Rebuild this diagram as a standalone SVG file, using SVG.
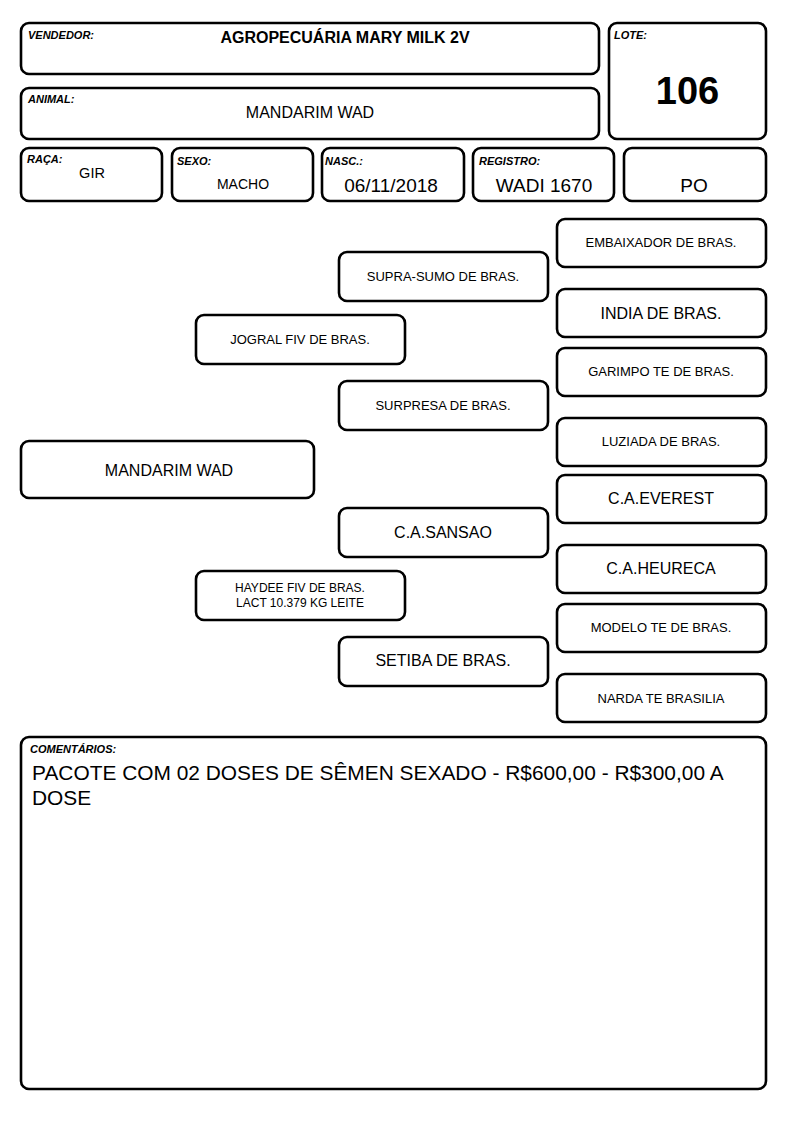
<svg xmlns="http://www.w3.org/2000/svg" width="794" height="1123" viewBox="0 0 794 1123">
<style>
.b{fill:#fff;stroke:#000;stroke-width:2.6}
.l{font-family:"Liberation Sans",Arial,sans-serif;font-size:11px;font-weight:bold;font-style:italic;fill:#000}
.t{font-family:"Liberation Sans",Arial,sans-serif;fill:#000;text-anchor:middle}
.s13{font-size:13px}
.s16{font-size:16px}
</style>
<rect width="794" height="1123" fill="#fff"/>
<g id="vendedor"><rect class="b" x="21" y="23" width="578" height="51" rx="8"/><text class="l" x="28" y="39">VENDEDOR:</text><text class="t" x="345" y="43" font-size="16" font-weight="bold">AGROPECUÁRIA MARY MILK 2V</text></g>
<g id="animal"><rect class="b" x="21" y="88" width="578" height="51" rx="8"/><text class="l" x="28" y="103">ANIMAL:</text><text class="t s16" x="310" y="118">MANDARIM WAD</text></g>
<g id="lote"><rect class="b" x="609" y="23" width="157" height="116" rx="8"/><text class="l" x="614" y="39">LOTE:</text><text class="t" x="687.5" y="104" font-size="38" font-weight="bold">106</text></g>
<g id="raca"><rect class="b" x="21" y="148" width="141" height="53" rx="8"/><text class="l" x="27" y="163">RAÇA:</text><text class="t" x="92" y="178" font-size="14.5">GIR</text></g>
<g id="sexo"><rect class="b" x="172" y="148" width="141" height="53" rx="8"/><text class="l" x="177" y="165">SEXO:</text><text class="t" x="243" y="189" font-size="14">MACHO</text></g>
<g id="nasc"><rect class="b" x="322" y="148" width="142" height="53" rx="8"/><text class="l" x="325" y="165">NASC.:</text><text class="t" x="391" y="192" font-size="19">06/11/2018</text></g>
<g id="registro"><rect class="b" x="473" y="148" width="141" height="53" rx="8"/><text class="l" x="479" y="165">REGISTRO:</text><text class="t" x="544" y="192" font-size="19">WADI 1670</text></g>
<g id="po"><rect class="b" x="624" y="148" width="142" height="53" rx="8"/><text class="t" x="694" y="192" font-size="19">PO</text></g>
<g id="connectors"></g>
<g id="n-mandarim"><rect class="b" x="21" y="441" width="293" height="57" rx="8"/><text class="t s16" x="169" y="476">MANDARIM WAD</text></g>
<g id="n-jogral"><rect class="b" x="196" y="315" width="209" height="49" rx="8"/><text class="t s13" x="300" y="344">JOGRAL FIV DE BRAS.</text></g>
<g id="n-haydee"><rect class="b" x="196" y="571" width="209" height="49" rx="8"/><text class="t" x="300" y="592" font-size="12">HAYDEE FIV DE BRAS.</text><text class="t" x="300" y="607" font-size="12">LACT 10.379 KG LEITE</text></g>
<g id="n-supra"><rect class="b" x="339" y="252" width="209" height="49" rx="8"/><text class="t s13" x="443" y="281">SUPRA-SUMO DE BRAS.</text></g>
<g id="n-surpresa"><rect class="b" x="339" y="381" width="209" height="49" rx="8"/><text class="t s13" x="443" y="410">SURPRESA DE BRAS.</text></g>
<g id="n-sansao"><rect class="b" x="339" y="508" width="209" height="49" rx="8"/><text class="t s16" x="443" y="538">C.A.SANSAO</text></g>
<g id="n-setiba"><rect class="b" x="339" y="637" width="209" height="49" rx="8"/><text class="t s16" x="443" y="666">SETIBA DE BRAS.</text></g>
<g id="n-embaixador"><rect class="b" x="557" y="219" width="209" height="48" rx="8"/><text class="t s13" x="661" y="247">EMBAIXADOR DE BRAS.</text></g>
<g id="n-india"><rect class="b" x="557" y="289" width="209" height="48" rx="8"/><text class="t s16" x="661" y="319">INDIA DE BRAS.</text></g>
<g id="n-garimpo"><rect class="b" x="557" y="348" width="209" height="48" rx="8"/><text class="t s13" x="661" y="376">GARIMPO TE DE BRAS.</text></g>
<g id="n-luziada"><rect class="b" x="557" y="418" width="209" height="48" rx="8"/><text class="t s13" x="661" y="446">LUZIADA DE BRAS.</text></g>
<g id="n-everest"><rect class="b" x="557" y="475" width="209" height="48" rx="8"/><text class="t s16" x="661" y="504">C.A.EVEREST</text></g>
<g id="n-heureca"><rect class="b" x="557" y="545" width="209" height="48" rx="8"/><text class="t s16" x="661" y="574">C.A.HEURECA</text></g>
<g id="n-modelo"><rect class="b" x="557" y="604" width="209" height="48" rx="8"/><text class="t s13" x="661" y="632">MODELO TE DE BRAS.</text></g>
<g id="n-narda"><rect class="b" x="557" y="674" width="209" height="48" rx="8"/><text class="t s13" x="661" y="703">NARDA TE BRASILIA</text></g>
<g id="comentarios"><rect class="b" x="21" y="737" width="745" height="352" rx="8"/><text class="l" x="30" y="753">COMENTÁRIOS:</text><text font-family="Liberation Sans,Arial,sans-serif" font-size="20.9" x="32" y="780">PACOTE COM 02 DOSES DE SÊMEN SEXADO - R$600,00 - R$300,00 A</text><text font-family="Liberation Sans,Arial,sans-serif" font-size="20.9" x="32" y="805">DOSE</text></g>
</svg>
